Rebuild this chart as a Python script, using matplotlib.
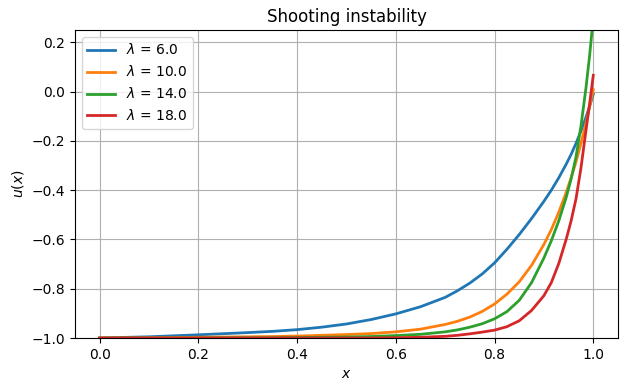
from matplotlib import pyplot as plt

# values
x = [0.0, 0.1, 0.2, 0.3, 0.35, 0.4, 0.45, 0.5, 0.55, 0.6, 0.65, 0.7, 0.725,
     0.75, 0.775, 0.8, 0.825, 0.85, 0.875, 0.9, 0.915, 0.93, 0.945, 0.955,
     0.965, 0.975, 0.985, 0.9925, 1.0]

lambdas = [6.0, 10.0, 14.0, 18.0]

u_6 = [-1.0, -0.995, -0.987, -0.978, -0.973, -0.966, -0.956, -0.943, -0.925,
       -0.902, -0.873, -0.835, -0.808, -0.777, -0.740, -0.695, -0.640, -0.58,
       -0.515, -0.445, -0.40, -0.35, -0.295, -0.255, -0.21, -0.16, -0.105,
       -0.06, -0.01]
u_10 = [-1.0, -0.999, -0.997, -0.995, -0.994, -0.992, -0.989, -0.986, -0.982,
        -0.975, -0.964, -0.945, -0.932, -0.915, -0.892, -0.862, -0.822, -0.772,
        -0.705, -0.62, -0.56, -0.49, -0.41, -0.35, -0.285, -0.21, -0.13,
        -0.062, 0.008]
u_14 = [-1.0, -1.0, -1.0, -0.999, -0.999, -0.998, -0.997, -0.996, -0.994,
        -0.99, -0.985, -0.975, -0.967, -0.956, -0.942, -0.922, -0.893, -0.847,
        -0.775, -0.675, -0.605, -0.525, -0.43, -0.355, -0.265, -0.14, 0.012,
        0.145, 0.30]
u_18 = [-1.0, -1.0, -1.0, -1.0, -1.0, -1.0, -1.0, -1.0, -1.0,
        -0.999, -0.997, -0.993, -0.989, -0.983, -0.976, -0.968, -0.954, -0.93,
        -0.888, -0.828, -0.775, -0.698, -0.60, -0.525, -0.435, -0.31, -0.16,
        -0.05, 0.066]

curves = [u_6, u_10, u_14, u_18]

fig = plt.figure(figsize=(6.27, 3.91), dpi=100)
ax = fig.add_axes([0.1196, 0.1355, 0.866, 0.7878])

for lam, u in zip(lambdas, curves):
    ax.plot(x, u, lw=2, label=r'$\lambda$ = %.1f' % lam)

ax.set_ylim(-1.0, 0.25)
ax.set_xlim(-0.05, 1.05)
ax.set_xlabel('$x$')
ax.set_ylabel('$u(x)$')
ax.set_title('Shooting instability')
ax.grid(True)
ax.legend(loc='upper left')

fig.savefig('out.png')
